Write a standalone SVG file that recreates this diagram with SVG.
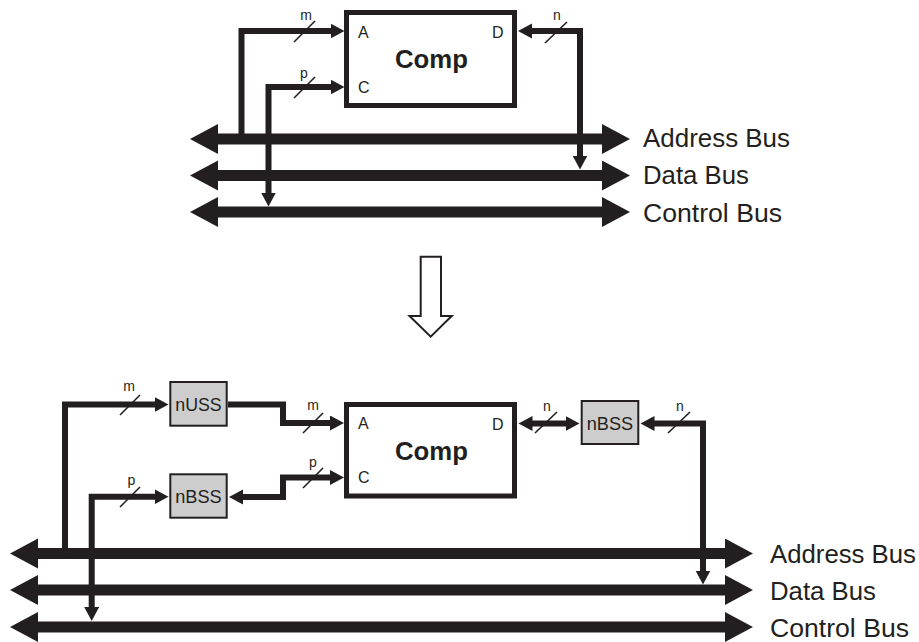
<svg xmlns="http://www.w3.org/2000/svg" width="919" height="642" viewBox="0 0 919 642">
  <style>
    text { font-family: "Liberation Sans", Arial, sans-serif; fill: #231f20; }
    .port { font-size: 16px; }
    .title { font-size: 25px; font-weight: bold; }
    .bus-label { font-size: 25px; }
    .width { font-size: 14px; }
    .unit { font-size: 19px; }
    .comp { fill: #ffffff; stroke: #231f20; stroke-width: 5; }
    .block { fill: #cdcdcd; stroke: #231f20; stroke-width: 2; }
    .wire { fill: none; stroke: #231f20; stroke-width: 6; stroke-linejoin: miter; }
    .bus { fill: none; stroke: #231f20; stroke-width: 11; }
    .slash { stroke: #231f20; stroke-width: 1.6; }
    .hollow { fill: #ffffff; stroke: #231f20; stroke-width: 2; stroke-linejoin: miter; }
  </style>
  <defs>
    <marker id="head" markerUnits="userSpaceOnUse" markerWidth="15" markerHeight="16" refX="0.5" refY="7.5" orient="auto-start-reverse">
      <path d="M0,0 L14,7.5 L0,15 Z" fill="#231f20"/>
    </marker>
    <marker id="busHead" markerUnits="userSpaceOnUse" markerWidth="29" markerHeight="31" refX="1" refY="15" orient="auto-start-reverse">
      <path d="M0,0 L28,15 L0,30 Z" fill="#231f20"/>
    </marker>
  </defs>

  <!-- ===== Upper system: component attached directly to the buses ===== -->
  <g id="buses-top">
    <path class="bus" d="M217,139 H603" marker-start="url(#busHead)" marker-end="url(#busHead)"/>
    <path class="bus" d="M217,175.5 H603" marker-start="url(#busHead)" marker-end="url(#busHead)"/>
    <path class="bus" d="M217,212 H603" marker-start="url(#busHead)" marker-end="url(#busHead)"/>
    <text class="bus-label" x="643" y="147.3" textLength="147" lengthAdjust="spacingAndGlyphs">Address Bus</text>
    <text class="bus-label" x="643" y="184.3" textLength="106" lengthAdjust="spacingAndGlyphs">Data Bus</text>
    <text class="bus-label" x="643" y="221.7" textLength="139" lengthAdjust="spacingAndGlyphs">Control Bus</text>
  </g>

  <g id="comp-top">
    <rect class="comp" x="346.5" y="12.5" width="168" height="93"/>
    <text class="port" x="358" y="37.7">A</text>
    <text class="port" x="358" y="93.3">C</text>
    <text class="port" x="503.5" y="37.7" text-anchor="end">D</text>
    <text class="title" x="431.5" y="68.3" text-anchor="middle" textLength="73" lengthAdjust="spacingAndGlyphs">Comp</text>
  </g>

  <g id="connectors-top">
    <path class="wire" d="M241.5,139 V31 H331" marker-end="url(#head)"/>
    <path class="wire" d="M268.5,193 V87 H331" marker-start="url(#head)" marker-end="url(#head)"/>
    <path class="wire" d="M531.5,31 H580 V156" marker-start="url(#head)" marker-end="url(#head)"/>
    <line class="slash" x1="294" y1="42" x2="315" y2="21"/>
    <line class="slash" x1="294" y1="98" x2="315" y2="77"/>
    <line class="slash" x1="545" y1="43" x2="567" y2="22"/>
    <text class="width" x="306" y="20" text-anchor="middle">m</text>
    <text class="width" x="304" y="78" text-anchor="middle">p</text>
    <text class="width" x="557" y="20" text-anchor="middle">n</text>
  </g>

  <!-- ===== Transformation arrow ===== -->
  <g id="transform-arrow">
    <polygon class="hollow" points="420.7,256.7 441,256.7 441,316 451.7,316 430.7,336.7 409.5,316 420.7,316"/>
  </g>

  <!-- ===== Lower system: component wrapped by bus-side stubs ===== -->
  <g id="buses-bottom">
    <path class="bus" d="M37,553.5 H726" marker-start="url(#busHead)" marker-end="url(#busHead)"/>
    <path class="bus" d="M37,590 H726" marker-start="url(#busHead)" marker-end="url(#busHead)"/>
    <path class="bus" d="M37,627 H726" marker-start="url(#busHead)" marker-end="url(#busHead)"/>
    <text class="bus-label" x="770" y="563.3" textLength="146" lengthAdjust="spacingAndGlyphs">Address Bus</text>
    <text class="bus-label" x="770" y="600" textLength="106" lengthAdjust="spacingAndGlyphs">Data Bus</text>
    <text class="bus-label" x="770" y="636.7" textLength="139" lengthAdjust="spacingAndGlyphs">Control Bus</text>
  </g>

  <g id="comp-bottom">
    <rect class="comp" x="346.5" y="404.5" width="168" height="91.5"/>
    <text class="port" x="358" y="428.5">A</text>
    <text class="port" x="358" y="483.3">C</text>
    <text class="port" x="503.5" y="430" text-anchor="end">D</text>
    <text class="title" x="431.5" y="459.5" text-anchor="middle" textLength="73" lengthAdjust="spacingAndGlyphs">Comp</text>
  </g>

  <g id="nuss">
    <rect class="block" x="170.3" y="382" width="56.4" height="43.7"/>
    <text class="unit" x="198.5" y="410.5" text-anchor="middle" textLength="46.5" lengthAdjust="spacingAndGlyphs">nUSS</text>
  </g>

  <g id="nbss-control">
    <rect class="block" x="170.3" y="474.3" width="56.4" height="43.4"/>
    <text class="unit" x="198.5" y="503" text-anchor="middle" textLength="46.5" lengthAdjust="spacingAndGlyphs">nBSS</text>
  </g>

  <g id="nbss-data">
    <rect class="block" x="581.7" y="401" width="56.6" height="43"/>
    <text class="unit" x="610" y="430" text-anchor="middle" textLength="46.5" lengthAdjust="spacingAndGlyphs">nBSS</text>
  </g>

  <g id="connectors-bottom">
    <path class="wire" d="M65,553.5 V404.5 H155" marker-end="url(#head)"/>
    <path class="wire" d="M228,404.5 H283 V423 H330.5" marker-end="url(#head)"/>
    <path class="wire" d="M91.7,607.5 V496.7 H155" marker-start="url(#head)" marker-end="url(#head)"/>
    <path class="wire" d="M242.5,497 H283 V477.5 H330.5" marker-start="url(#head)" marker-end="url(#head)"/>
    <path class="wire" d="M532,423.5 H566" marker-start="url(#head)" marker-end="url(#head)"/>
    <path class="wire" d="M654,423.5 H703 V571" marker-start="url(#head)" marker-end="url(#head)"/>
    <line class="slash" x1="120" y1="415" x2="140" y2="395"/>
    <line class="slash" x1="303" y1="433" x2="323" y2="413"/>
    <line class="slash" x1="120" y1="507" x2="140" y2="487"/>
    <line class="slash" x1="303" y1="488" x2="323" y2="468"/>
    <line class="slash" x1="535" y1="433" x2="557" y2="412"/>
    <line class="slash" x1="668" y1="433" x2="690" y2="412"/>
    <text class="width" x="129" y="391" text-anchor="middle">m</text>
    <text class="width" x="313" y="409.5" text-anchor="middle">m</text>
    <text class="width" x="131.5" y="485" text-anchor="middle">p</text>
    <text class="width" x="313" y="466.5" text-anchor="middle">p</text>
    <text class="width" x="547" y="410.7" text-anchor="middle">n</text>
    <text class="width" x="680" y="410.7" text-anchor="middle">n</text>
  </g>
</svg>
